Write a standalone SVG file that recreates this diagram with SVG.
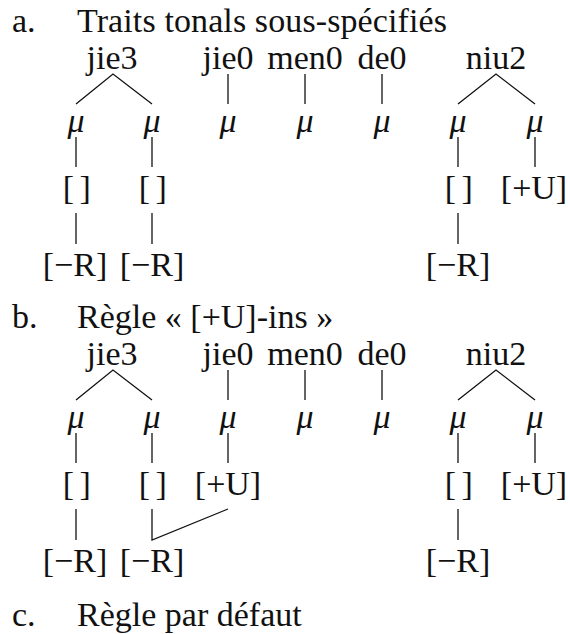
<svg xmlns="http://www.w3.org/2000/svg" width="570" height="634" viewBox="0 0 570 634">
<style>
text{font-family:"Liberation Serif","Times New Roman",serif;font-size:34px;fill:#111;}
.c{text-anchor:middle;}
.b{text-anchor:middle;letter-spacing:-1.5px;}
.mu{font-style:italic;text-anchor:middle;}
.e line,.e polyline{stroke:#111;stroke-width:1.3;fill:none;}
</style>
<rect width="570" height="634" fill="#fff"/>
<!-- Part a -->
<g id="a-title"><text x="12" y="32">a.</text><text x="77" y="32" textLength="370">Traits tonals sous-spécifiés</text></g>
<g id="a-syll">
<g id="a-jie3"><text class="c" x="112" y="69">jie3</text></g>
<g id="a-jie0"><text class="c" x="228" y="69">jie0</text></g>
<g id="a-men0"><text class="c" x="305" y="69">men0</text></g>
<g id="a-de0"><text class="c" x="382" y="69">de0</text></g>
<g id="a-niu2"><text class="c" x="496" y="69">niu2</text></g>
</g>
<g id="a-mora">
<g id="a-mu1"><text class="mu" x="76" y="132">μ</text></g>
<g id="a-mu2"><text class="mu" x="152" y="132">μ</text></g>
<g id="a-mu3"><text class="mu" x="228" y="132">μ</text></g>
<g id="a-mu4"><text class="mu" x="305" y="132">μ</text></g>
<g id="a-mu5"><text class="mu" x="382" y="132">μ</text></g>
<g id="a-mu6"><text class="mu" x="458" y="132">μ</text></g>
<g id="a-mu7"><text class="mu" x="535" y="132">μ</text></g>
</g>
<g id="a-feat">
<g id="a-f1"><text class="b" x="76" y="199">[ ]</text></g>
<g id="a-f2"><text class="b" x="152" y="199">[ ]</text></g>
<g id="a-f6"><text class="b" x="458" y="199">[ ]</text></g>
<g id="a-f7"><text class="c" x="534" y="199">[+U]</text></g>
<g id="a-r1"><text class="c" x="75" y="276">[−R]</text></g>
<g id="a-r2"><text class="c" x="152" y="276">[−R]</text></g>
<g id="a-r6"><text class="c" x="458" y="276">[−R]</text></g>
</g>
<g id="a-edges" class="e">
<polyline points="76,104 113,74 152,104"/>
<line x1="228" y1="74" x2="228" y2="104"/>
<line x1="305" y1="74" x2="305" y2="104"/>
<line x1="382" y1="74" x2="382" y2="104"/>
<polyline points="458,104 496,74 535,104"/>
<line x1="76" y1="137" x2="76" y2="167"/>
<line x1="152" y1="137" x2="152" y2="167"/>
<line x1="458" y1="137" x2="458" y2="167"/>
<line x1="535" y1="137" x2="535" y2="167"/>
<line x1="76" y1="213" x2="76" y2="244"/>
<line x1="152" y1="213" x2="152" y2="244"/>
<line x1="458" y1="213" x2="458" y2="244"/>
</g>
<!-- Part b -->
<g id="b-title"><text x="12" y="328">b.</text><text x="77" y="328">Règle « [+U]-ins »</text></g>
<g id="b-syll">
<g id="b-jie3"><text class="c" x="112" y="365">jie3</text></g>
<g id="b-jie0"><text class="c" x="228" y="365">jie0</text></g>
<g id="b-men0"><text class="c" x="305" y="365">men0</text></g>
<g id="b-de0"><text class="c" x="382" y="365">de0</text></g>
<g id="b-niu2"><text class="c" x="496" y="365">niu2</text></g>
</g>
<g id="b-mora">
<g id="b-mu1"><text class="mu" x="76" y="428">μ</text></g>
<g id="b-mu2"><text class="mu" x="152" y="428">μ</text></g>
<g id="b-mu3"><text class="mu" x="228" y="428">μ</text></g>
<g id="b-mu4"><text class="mu" x="305" y="428">μ</text></g>
<g id="b-mu5"><text class="mu" x="382" y="428">μ</text></g>
<g id="b-mu6"><text class="mu" x="458" y="428">μ</text></g>
<g id="b-mu7"><text class="mu" x="535" y="428">μ</text></g>
</g>
<g id="b-feat">
<g id="b-f1"><text class="b" x="76" y="495">[ ]</text></g>
<g id="b-f2"><text class="b" x="152" y="495">[ ]</text></g>
<g id="b-f3"><text class="c" x="228" y="495">[+U]</text></g>
<g id="b-f6"><text class="b" x="458" y="495">[ ]</text></g>
<g id="b-f7"><text class="c" x="534" y="495">[+U]</text></g>
<g id="b-r1"><text class="c" x="75" y="572">[−R]</text></g>
<g id="b-r2"><text class="c" x="152" y="572">[−R]</text></g>
<g id="b-r6"><text class="c" x="458" y="572">[−R]</text></g>
</g>
<g id="b-edges" class="e">
<polyline points="76,400 113,370 152,400"/>
<line x1="228" y1="370" x2="228" y2="400"/>
<line x1="305" y1="370" x2="305" y2="400"/>
<line x1="382" y1="370" x2="382" y2="400"/>
<polyline points="458,400 496,370 535,400"/>
<line x1="76" y1="433" x2="76" y2="463"/>
<line x1="152" y1="433" x2="152" y2="463"/>
<line x1="228" y1="433" x2="228" y2="463"/>
<line x1="458" y1="433" x2="458" y2="463"/>
<line x1="535" y1="433" x2="535" y2="463"/>
<line x1="76" y1="509" x2="76" y2="540"/>
<polyline points="152,509 152,540 228,509"/>
<line x1="458" y1="509" x2="458" y2="540"/>
</g>
<!-- Part c -->
<g id="c-title"><text x="12" y="626">c.</text><text x="77" y="626">Règle par défaut</text></g>
</svg>
